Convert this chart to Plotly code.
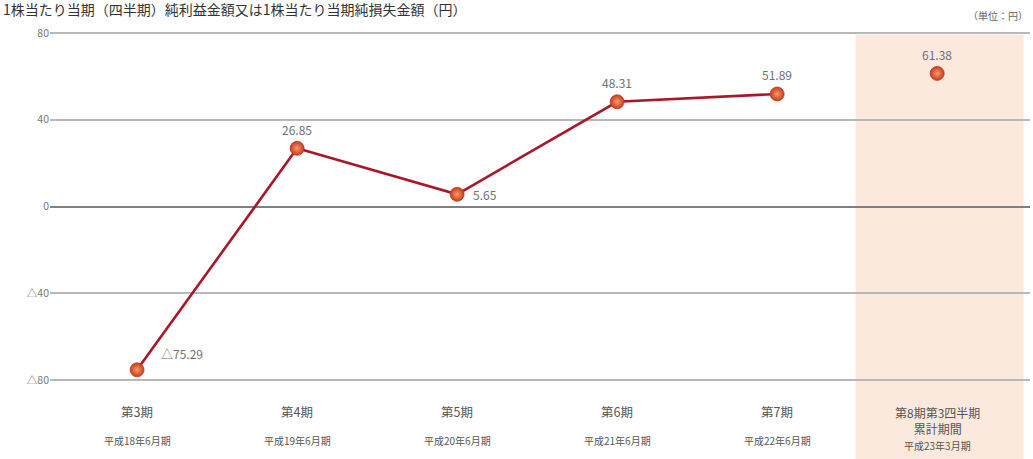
import plotly.graph_objects as go

# 1株当たり当期(四半期)純利益金額又は1株当たり当期純損失金額
periods = ["第3期", "第4期", "第5期", "第6期", "第7期", "第8期第3四半期<br>累計期間"]
fiscal = ["平成18年6月期", "平成19年6月期", "平成20年6月期",
          "平成21年6月期", "平成22年6月期", "平成23年3月期"]
eps = [-75.29, 26.85, 5.65, 48.31, 51.89, 61.38]
tick_vals = [80, 40, 0, -40, -80]
tick_text = ["80", "40", "0", "△40", "△80"]

FONT = "Noto Sans CJK JP"
xs = list(range(len(periods)))


def fmt(v):
    return ("△" if v < 0 else "") + f"{abs(v):.2f}"


fig = go.Figure()

# full-year results joined by a line; the quarterly cumulative point stands alone
fig.add_trace(go.Scatter(
    x=xs[:5], y=eps[:5], mode="lines",
    line=dict(color="#a8182a", width=2.6),
    hoverinfo="skip", showlegend=False))
fig.add_trace(go.Scatter(
    x=xs, y=eps, mode="markers",
    marker=dict(size=14, color="#c83a1e",
                gradient=dict(type="radial", color="#f89a6a"),
                line=dict(color="#b8401e", width=0.8)),
    showlegend=False))

# value labels: (xshift, yshift, anchor) per point
label_pos = [(22, 16, "left"), (0, 19, "center"), (14, 0, "left"),
             (0, 19, "center"), (0, 19, "center"), (0, 19, "center")]
for x, v, (dx, dy, anc) in zip(xs, eps, label_pos):
    fig.add_annotation(x=x, y=v, xref="x", yref="y", text=fmt(v),
                       showarrow=False, xshift=dx, yshift=dy, xanchor=anc,
                       font=dict(family=FONT, size=12, color="#707070"))

# category labels under the plot
for x, p, f in zip(xs, periods, fiscal):
    last = "<br>" in p
    fig.add_annotation(x=x, y=-0.005 if last else -0.03, xref="x", yref="paper",
                       text=p, showarrow=False, yanchor="top" if last else "middle",
                       font=dict(family=FONT, size=12 if last else 12.5,
                                 color="#555555"))
    fig.add_annotation(x=x, y=-0.095 if last else -0.082, xref="x", yref="paper",
                       text=f, showarrow=False, yanchor="top",
                       font=dict(family=FONT, size=10, color="#555555"))

# highlighted column for the current quarter period
fig.add_shape(type="rect", xref="x", yref="paper", x0=4.49, x1=5.54,
              y0=-0.25, y1=0.962, fillcolor="#fce9de", line_width=0,
              layer="below")

# heading and unit
fig.add_annotation(x=-0.05, y=1.029, xref="paper", yref="paper",
                   text="1株当たり当期（四半期）純利益金額又は1株当たり当期純損失金額（円）",
                   showarrow=False, xanchor="left", yanchor="middle",
                   font=dict(family=FONT, size=14, color="#333333"))
fig.add_annotation(x=1.0, y=1.013, xref="paper", yref="paper",
                   text="（単位：円）", showarrow=False, xanchor="right",
                   yanchor="middle",
                   font=dict(family=FONT, size=10, color="#666666"))

fig.update_layout(
    width=1033, height=459,
    margin=dict(l=50, r=3, t=20, b=59),
    paper_bgcolor="white", plot_bgcolor="rgba(0,0,0,0)",
    font=dict(family=FONT),
    xaxis=dict(range=[-0.544, 5.58], showticklabels=False, showgrid=False,
               zeroline=False, fixedrange=True),
    yaxis=dict(range=[-89.2, 86.0], tickvals=tick_vals, ticktext=tick_text,
               showgrid=True, gridcolor="#b8b8b8", gridwidth=1.5,
               zeroline=True, zerolinecolor="#808080", zerolinewidth=2,
               tickfont=dict(family=FONT, size=10.5, color="#777777"),
               ticks="", fixedrange=True),
)

fig.write_html("out.html")
